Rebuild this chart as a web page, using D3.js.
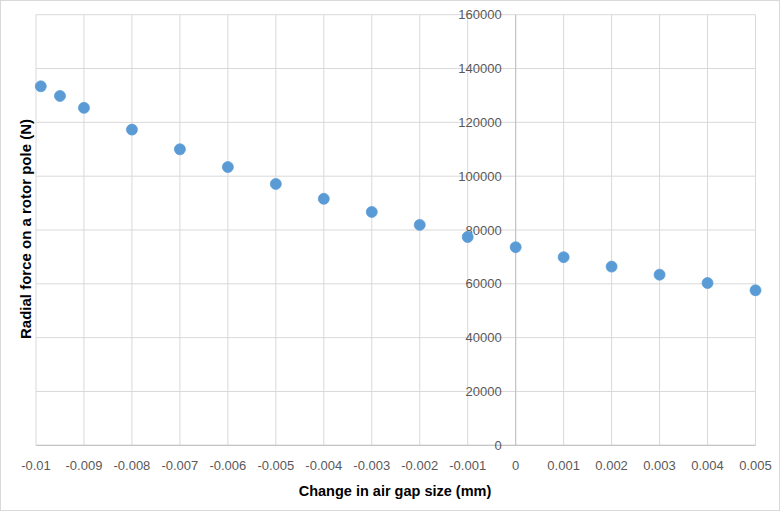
<!DOCTYPE html>
<html><head><meta charset="utf-8">
<script src="https://cdn.jsdelivr.net/npm/d3@7"></script>
<style>body{margin:0;background:#fff;}svg{display:block;}</style>
</head><body>
<script>
const xValues = [-0.0099, -0.0095, -0.009, -0.008, -0.007, -0.006, -0.005, -0.004, -0.003, -0.002, -0.001, 0, 0.001, 0.002, 0.003, 0.004, 0.005];
const forceValues = [133400, 129800, 125400, 117300, 110000, 103400, 97100, 91600, 86700, 81900, 77400, 73600, 69900, 66400, 63400, 60300, 57600];
const xTicks = [-0.01, -0.009, -0.008, -0.007, -0.006, -0.005, -0.004, -0.003, -0.002, -0.001, 0, 0.001, 0.002, 0.003, 0.004, 0.005];
const xTickLabels = ["-0.01", "-0.009", "-0.008", "-0.007", "-0.006", "-0.005", "-0.004", "-0.003", "-0.002", "-0.001", "0", "0.001", "0.002", "0.003", "0.004", "0.005"];
const yTicks = [0, 20000, 40000, 60000, 80000, 100000, 120000, 140000, 160000];
const xTitle = "Change in air gap size (mm)";
const yTitle = "Radial force on a rotor pole (N)";

const W = 784, H = 512;
const svg = d3.select("body").append("svg").attr("width", W).attr("height", H);
svg.append("rect").attr("x", 0.5).attr("y", 0.5).attr("width", 779).attr("height", 510)
  .attr("fill", "#fff").attr("stroke", "#d9d9d9");

const x = d3.scaleLinear().domain([-0.01, 0.005]).range([36, 755.5]);
const y = d3.scaleLinear().domain([0, 160000]).range([445.3, 14.7]);
const font = "'Liberation Sans', Arial, sans-serif";

// gridlines
const g = svg.append("g");
g.selectAll(".vg").data(xTicks).join("line")
  .attr("x1", d => x(d)).attr("x2", d => x(d)).attr("y1", y(0)).attr("y2", y(160000))
  .attr("stroke", "#d9d9d9").attr("stroke-width", 1);
g.selectAll(".hg").data(yTicks).join("line")
  .attr("x1", x(-0.01)).attr("x2", x(0.005)).attr("y1", d => y(d)).attr("y2", d => y(d))
  .attr("stroke", "#d9d9d9").attr("stroke-width", 1);

// axes lines
svg.append("line").attr("x1", x(-0.01)).attr("x2", x(0.005)).attr("y1", y(0)).attr("y2", y(0)).attr("stroke", "#bfbfbf");
svg.append("line").attr("x1", x(0)).attr("x2", x(0)).attr("y1", y(0)).attr("y2", y(160000)).attr("stroke", "#bfbfbf");

// x tick labels
svg.selectAll(".xt").data(xTicks).join("text")
  .attr("x", d => x(d)).attr("y", 470).attr("text-anchor", "middle")
  .attr("font-family", font).attr("font-size", 13).attr("fill", "#595959")
  .text((d, i) => xTickLabels[i]);

// y tick labels
svg.selectAll(".yt").data(yTicks).join("text")
  .attr("x", x(0) - 14).attr("y", d => y(d)).attr("dy", "0.35em").attr("text-anchor", "end")
  .attr("font-family", font).attr("font-size", 13).attr("fill", "#595959")
  .text(d => String(d));

// points
svg.selectAll(".pt").data(xValues.map((v, i) => [v, forceValues[i]])).join("circle")
  .attr("cx", d => x(d[0])).attr("cy", d => y(d[1])).attr("r", 5.5)
  .attr("fill", "#5b9bd5").attr("stroke", "#5b9bd5").attr("stroke-width", 0.75);

// titles
svg.append("text").attr("x", 395).attr("y", 496).attr("text-anchor", "middle")
  .attr("font-family", font).attr("font-size", 14.5).attr("font-weight", "bold").attr("fill", "#000")
  .text(xTitle);
svg.append("text").attr("transform", "translate(31,229) rotate(-90)").attr("text-anchor", "middle")
  .attr("font-family", font).attr("font-size", 15).attr("font-weight", "bold").attr("fill", "#000")
  .text(yTitle);
</script>
</body></html>
